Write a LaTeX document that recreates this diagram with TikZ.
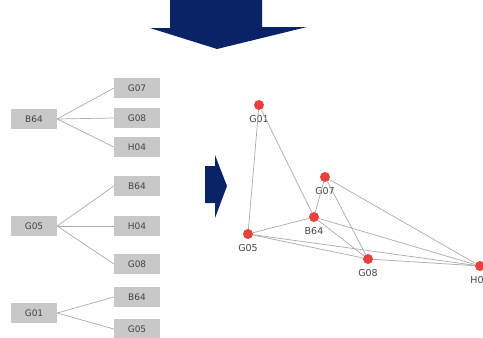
\documentclass[tikz,border=0pt]{standalone}
\usepackage{fontspec}
\setmainfont{DejaVu Sans}
\usepackage{tikz}
\definecolor{navy}{RGB}{10,34,102}
\definecolor{boxgray}{RGB}{200,200,200}
\definecolor{linegray}{RGB}{170,170,170}
\definecolor{textgray}{RGB}{68,68,68}
\definecolor{dotred}{RGB}{232,66,62}

\begin{document}
\begin{tikzpicture}[x=1pt,y=-1pt,
    box/.style={fill=boxgray, minimum width=46pt, minimum height=20pt, inner sep=0pt,
                text=textgray, font=\fontsize{9}{10}\selectfont},
    link/.style={draw=linegray, line width=0.7pt},
    dot/.style={circle, fill=dotred, minimum size=10pt, inner sep=0pt},
    lab/.style={text=textgray, font=\fontsize{9.5}{10}\selectfont, label distance=2pt}]
\useasboundingbox (0,0) rectangle (483,338);

% Arrows
\fill[navy] (170,0) -- (262,0) -- (262,27) -- (307,27) -- (217,49) -- (150,28) -- (170,28) -- cycle;
\fill[navy] (205,166) -- (215,166) -- (215,155) -- (227,186) -- (215,218) -- (215,203) -- (205,203) -- cycle;

% List B64
\node[box] (b64) at (34,119) {B64};
\node[box] (b64g07) at (137,88) {G07};
\node[box] (b64g08) at (137,118) {G08};
\node[box] (b64h04) at (137,147) {H04};
\foreach \n in {b64g07,b64g08,b64h04}
    \draw[link] (b64.east) -- (\n.west);

% List G05
\node[box] (g05) at (34,226) {G05};
\node[box] (g05b64) at (137,186) {B64};
\node[box] (g05h04) at (137,226) {H04};
\node[box] (g05g08) at (137,264) {G08};
\foreach \n in {g05b64,g05h04,g05g08}
    \draw[link] (g05.east) -- (\n.west);

% List G01
\node[box] (g01) at (34,313) {G01};
\node[box] (g01b64) at (137,297) {B64};
\node[box] (g01g05) at (137,329) {G05};
\foreach \n in {g01b64,g01g05}
    \draw[link] (g01.east) -- (\n.west);

% Graph
\node[dot, label={[lab]below:G01}] (n01) at (259,105) {};
\node[dot, label={[lab]below:G07}] (n07) at (325,177) {};
\node[dot, label={[lab]below:B64}] (n64) at (314,217) {};
\node[dot, label={[lab]below:G05}] (n05) at (248,234) {};
\node[dot, label={[lab]below:G08}] (n08) at (368,259) {};
\node[dot, label={[lab]below:H04}] (nh4) at (480,266) {};

\draw[link] (n01) -- (n05);
\draw[link] (n01) -- (n64);
\draw[link] (n07) -- (n64);
\draw[link] (n07) -- (n08);
\draw[link] (n07) -- (nh4);
\draw[link] (n64) -- (n05);
\draw[link] (n64) -- (n08);
\draw[link] (n64) -- (nh4);
\draw[link] (n05) -- (n08);
\draw[link] (n05) -- (nh4);
\draw[link] (n08) -- (nh4);
\end{tikzpicture}
\end{document}
